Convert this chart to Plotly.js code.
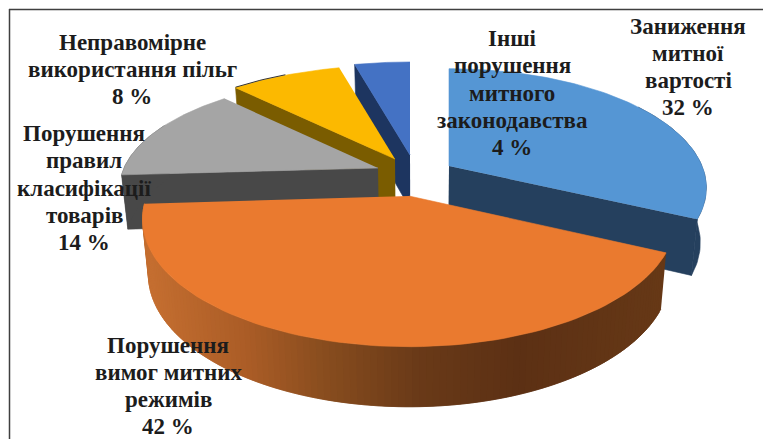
<!DOCTYPE html>
<html>
<head>
<meta charset="utf-8">
<script src="https://cdn.plot.ly/plotly-3.0.0.min.js"></script>
<style>html,body{margin:0;padding:0;background:#fff}#chart{width:763px;height:439px}</style>
</head>
<body>
<div id="chart"></div>
<script>
// Customs violations by type, share of the total in percent (clockwise from 12 o'clock).
const categories = [
  ["Заниження", "митної", "вартості"],
  ["Порушення", "вимог митних", "режимів"],
  ["Порушення", "правил", "класифікації", "товарів"],
  ["Неправомірне", "використання пільг"],
  ["Інші", "порушення", "митного", "законодавства"]
];
const shares = [32, 42, 14, 8, 4];
const topColors = ["#5596d4", "#ea7a2f", "#a5a5a5", "#fcb900", "#4472c4"];
const sideColors = ["#25405e", null, "#484848", "#7a5c00", "#1d3560"];

// Apex of each exploded slice on the plot axes, and its depth foreshortening.
const apexX = [449, 409, 378, 395, 410];
const apexY = [166, 196, 168, 159, 155];
const radius = [253, 262, 254, 264, 262];
const tilt = [0.455, 0.47, 0.425, 0.42, 0.42];
const labelX = [688, 168, 84, 132, 512];
const labelY = [67, 386, 188, 69.5, 93];
const lineGap = 27.2;

const perspective = 0.183, thickness = 54, convergeX = 420, converge = 0.021;

let start = 0;
const total = shares.reduce((a, b) => a + b, 0);
const spans = shares.map(v => {
  const a0 = start; start += v / total * 2 * Math.PI; return [a0, start];
});

function rimPoint(i, a) {
  const s = 1 / (1 + perspective * Math.cos(a));
  return [apexX[i] + radius[i] * Math.sin(a) * s, apexY[i] - radius[i] * tilt[i] * Math.cos(a) * s];
}
function drop(p, s) {
  return [p[0] + (convergeX - p[0]) * converge, p[1] + thickness * (1 + (s - 1) * 0.5)];
}
function scaleAt(a) { return 1 / (1 + perspective * Math.cos(a)); }

function poly(points, color) {
  return {
    type: "scatter", mode: "lines", fill: "toself", fillcolor: color,
    x: points.map(p => p[0]), y: points.map(p => p[1]),
    line: {color: color, width: 0.6}, hoverinfo: "skip", showlegend: false
  };
}
function arc(a0, a1, n) {
  const out = [];
  for (let k = 0; k <= n; k++) out.push(a0 + (a1 - a0) * k / n);
  return out;
}

// Warm shading along the rim of the largest slice, dark on the right, light on the left.
const rimStops = [[150, [196, 110, 48]], [250, [170, 92, 38]], [330, [135, 76, 30]], [420, [106, 58, 24]], [520, [92, 48, 20]], [665, [102, 56, 22]]];
function rimColor(x) {
  let j = 0;
  while (j < rimStops.length - 2 && x > rimStops[j + 1][0]) j++;
  const [x0, c0] = rimStops[j], [x1, c1] = rimStops[j + 1];
  const t = Math.max(0, Math.min(1, (x - x0) / (x1 - x0)));
  return "rgb(" + c0.map((c, n) => Math.round(c + (c1[n] - c) * t)).join(",") + ")";
}

function cutFace(i, a, color) {
  const o = rimPoint(i, a), c = [apexX[i], apexY[i]];
  return poly([c, o, drop(o, scaleAt(a)), drop(c, 1)], color);
}
function rim(i, a0, a1, color) {
  const as = arc(a0, a1, 50);
  const upper = as.map(a => rimPoint(i, a));
  const lower = as.map(a => drop(rimPoint(i, a), scaleAt(a))).reverse();
  return poly(upper.concat(lower), color);
}
function face(i) {
  const pts = [[apexX[i], apexY[i]]].concat(arc(spans[i][0], spans[i][1], 80).map(a => rimPoint(i, a)));
  return poly(pts, topColors[i]);
}

const traces = [];
// Painted back to front.
traces.push(cutFace(4, spans[4][0], sideColors[4]), face(4));
traces.push(cutFace(3, spans[3][0], sideColors[3]), face(3));

// Thin dark edge along the outer part of the yellow slice.
const edge = arc(spans[3][0], spans[3][0] + (spans[3][1] - spans[3][0]) * 0.5, 12).map(a => rimPoint(3, a));
traces.push({type: "scatter", mode: "lines", x: edge.map(p => p[0]), y: edge.map(p => p[1] - 0.5),
             line: {color: "#333333", width: 1}, hoverinfo: "skip", showlegend: false});

traces.push(cutFace(2, spans[2][0], sideColors[2]), rim(2, spans[2][0], spans[2][0] + 0.5, sideColors[2]), face(2));
traces.push(cutFace(0, spans[0][1], sideColors[0]), rim(0, Math.PI / 2 - 0.6, spans[0][1], sideColors[0]), face(0));

// Each rim strip overlaps its neighbour so no seams show between shades.
const rimAngles = arc(spans[1][0], spans[1][1], 120);
for (let k = 0; k < rimAngles.length - 1; k++) {
  const a = rimAngles[k], b = rimAngles[Math.min(k + 2, rimAngles.length - 1)];
  const pa = rimPoint(1, a), pb = rimPoint(1, b);
  traces.push(poly([pa, pb, drop(pb, scaleAt(b)), drop(pa, scaleAt(a))], rimColor(pa[0])));
}
traces.push(face(1));

// One annotation per printed line, so the line spacing stays even at this font size.
const annotations = [];
categories.forEach((lines, i) => {
  const all = lines.concat(shares[i] + " %");
  all.forEach((text, k) => annotations.push({
    x: labelX[i], y: labelY[i] + (k - (all.length - 1) / 2) * lineGap,
    xref: "x", yref: "y", showarrow: false, xanchor: "center", yanchor: "middle",
    text: text,
    font: {family: "Liberation Serif, serif", size: 23, color: "#1c1c1c", weight: 700}
  }));
});

const frameLine = {color: "#3f3f3f", width: 1.5};
Plotly.newPlot("chart", traces, {
  width: 763, height: 439,
  margin: {l: 0, r: 0, t: 0, b: 0},
  paper_bgcolor: "#fff", plot_bgcolor: "#fff",
  showlegend: false,
  xaxis: {range: [0, 763], visible: false, fixedrange: true},
  yaxis: {range: [439, 0], visible: false, fixedrange: true},
  annotations: annotations,
  shapes: [
    {type: "line", xref: "x", yref: "y", x0: 9, y0: 9.5, x1: 763, y1: 9.5, line: frameLine},
    {type: "line", xref: "x", yref: "y", x0: 9.5, y0: 9, x1: 9.5, y1: 439, line: frameLine}
  ]
}, {staticPlot: true, displayModeBar: false});
</script>
</body>
</html>
